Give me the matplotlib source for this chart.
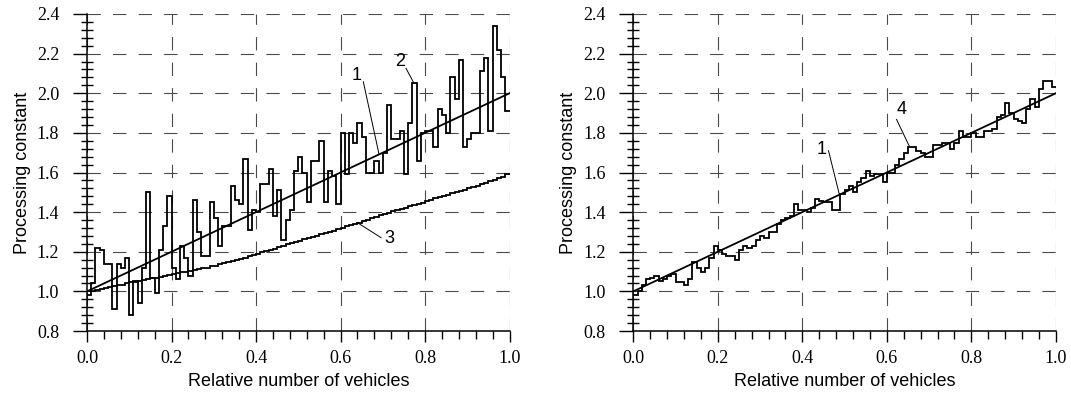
import numpy as np
import matplotlib
matplotlib.use("Agg")
import matplotlib.pyplot as plt
from matplotlib.ticker import MultipleLocator, FormatStrFormatter

# ---------------- data ----------------
n_steps = 100
line1_x = [0.0, 1.0]
line1_y = [1.0, 2.0]

series2 = [0.98, 1.04, 1.22, 1.21, 1.14, 1.14, 0.91, 1.14, 1.12, 1.17,
           0.88, 1.05, 0.94, 1.12, 1.50, 1.07, 0.99, 1.21, 1.33, 1.48,
           1.12, 1.06, 1.23, 1.17, 1.08, 1.46, 1.30, 1.18, 1.18, 1.45,
           1.37, 1.23, 1.33, 1.33, 1.53, 1.46, 1.44, 1.67, 1.31, 1.41,
           1.40, 1.54, 1.54, 1.62, 1.38, 1.51, 1.26, 1.36, 1.41, 1.61,
           1.68, 1.60, 1.45, 1.66, 1.66, 1.76, 1.45, 1.61, 1.58, 1.44,
           1.80, 1.59, 1.80, 1.75, 1.85, 1.78, 1.60, 1.60, 1.66, 1.60,
           1.70, 1.94, 1.77, 1.77, 1.81, 1.59, 1.85, 2.05, 1.66, 1.80,
           1.81, 1.81, 1.73, 1.92, 1.89, 1.80, 2.08, 1.97, 2.17, 1.73,
           1.77, 1.80, 1.80, 2.11, 2.18, 1.81, 2.34, 2.22, 2.08, 1.91]

series3 = [1.000, 1.004, 1.009, 1.012, 1.017, 1.020, 1.026, 1.030, 1.034, 1.041,
           1.045, 1.047, 1.053, 1.056, 1.061, 1.066, 1.069, 1.075, 1.079, 1.085,
           1.090, 1.092, 1.097, 1.100, 1.105, 1.108, 1.111, 1.117, 1.120, 1.126,
           1.130, 1.137, 1.141, 1.148, 1.152, 1.159, 1.165, 1.170, 1.178, 1.184,
           1.190, 1.198, 1.203, 1.211, 1.215, 1.223, 1.229, 1.237, 1.242, 1.250,
           1.255, 1.263, 1.268, 1.276, 1.281, 1.289, 1.294, 1.302, 1.307, 1.315,
           1.320, 1.328, 1.334, 1.342, 1.347, 1.356, 1.362, 1.370, 1.375, 1.384,
           1.390, 1.395, 1.404, 1.409, 1.417, 1.421, 1.430, 1.435, 1.443, 1.448,
           1.455, 1.460, 1.469, 1.474, 1.482, 1.486, 1.495, 1.500, 1.508, 1.512,
           1.520, 1.528, 1.533, 1.542, 1.547, 1.556, 1.561, 1.570, 1.576, 1.590]

series4 = [0.98, 1.00, 1.03, 1.06, 1.07, 1.08, 1.05, 1.06, 1.08, 1.09,
           1.045, 1.045, 1.03, 1.06, 1.15, 1.12, 1.10, 1.12, 1.17, 1.23,
           1.21, 1.19, 1.18, 1.18, 1.16, 1.21, 1.23, 1.22, 1.23, 1.26,
           1.28, 1.27, 1.30, 1.30, 1.34, 1.36, 1.37, 1.38, 1.44, 1.41,
           1.41, 1.40, 1.42, 1.465, 1.455, 1.45, 1.45, 1.41, 1.41, 1.49,
           1.51, 1.53, 1.50, 1.55, 1.57, 1.61, 1.58, 1.59, 1.59, 1.55,
           1.60, 1.60, 1.64, 1.67, 1.70, 1.73, 1.73, 1.71, 1.70, 1.68,
           1.68, 1.74, 1.74, 1.75, 1.75, 1.72, 1.75, 1.81, 1.78, 1.78,
           1.80, 1.78, 1.78, 1.81, 1.81, 1.82, 1.88, 1.89, 1.95, 1.90,
           1.87, 1.86, 1.85, 1.92, 1.97, 1.93, 2.02, 2.06, 2.06, 2.03]

x_label = "Relative number of vehicles"
y_label = "Processing constant"

# annotations: (text, text_xy, leader_start, leader_end)
left_notes = [("1", (0.638, 2.09), (0.654, 2.058), (0.691, 1.694)),
              ("2", (0.741, 2.16), (0.755, 2.126), (0.774, 2.05)),
              ("3", (0.716, 1.268), (0.696, 1.271), (0.640, 1.347))]
right_notes = [("1", (0.446, 1.714), (0.462, 1.710), (0.487, 1.495)),
               ("4", (0.634, 1.916), (0.623, 1.868), (0.653, 1.734))]

# ---------------- figure ----------------
W, H = 1071, 403
fig = plt.figure(figsize=(W / 100, H / 100), dpi=100)
ax_l = fig.add_axes([87 / W, (H - 331) / H, 422.5 / W, 317 / H])
ax_r = fig.add_axes([633.3 / W, (H - 331) / H, 422.5 / W, 317 / H])

edges = np.arange(n_steps + 1) / n_steps
serif = "Liberation Serif"
sans = "Liberation Sans"
grid_color = "#4a4a4a"


def style(ax):
    ax.set_xlim(0, 1.0)
    ax.set_ylim(0.8, 2.4)
    ax.xaxis.set_major_locator(MultipleLocator(0.2))
    ax.xaxis.set_minor_locator(MultipleLocator(0.04))
    ax.yaxis.set_major_locator(MultipleLocator(0.2))
    ax.yaxis.set_minor_locator(MultipleLocator(0.04))
    ax.xaxis.set_major_formatter(FormatStrFormatter("%.1f"))
    ax.yaxis.set_major_formatter(FormatStrFormatter("%.1f"))
    for s in ("top", "right"):
        ax.spines[s].set_visible(False)
    for s in ("left", "bottom"):
        ax.spines[s].set_linewidth(1.1)
    ax.grid(True, which="major", color=grid_color, linewidth=0.8,
            linestyle=(0, (12.0, 11.0)))
    ax.set_axisbelow(True)
    ax.tick_params(axis="x", which="major", direction="out", length=8,
                   width=1.0, pad=6, labelsize=13)
    ax.tick_params(axis="x", which="minor", direction="out", length=6, width=1.0)
    ax.tick_params(axis="y", which="major", direction="out", length=10,
                   width=1.0, pad=10, labelsize=13)
    ax.tick_params(axis="y", which="minor", direction="inout", length=8, width=1.0)
    for lab in ax.get_xticklabels() + ax.get_yticklabels():
        lab.set_fontfamily(serif)
    ax.set_xlabel(x_label, fontsize=13, family=sans, labelpad=4)
    ax.set_ylabel(y_label, fontsize=13, family=sans, labelpad=4)


def notes(ax, items):
    for txt, pos, p0, p1 in items:
        ax.text(pos[0], pos[1], txt, fontsize=13, family=sans,
                ha="center", va="center")
        ax.plot([p0[0], p1[0]], [p0[1], p1[1]], color="black", lw=0.7)


# left panel
ax_l.plot(line1_x, line1_y, color="black", lw=1.3, zorder=3)
ax_l.stairs(series2, edges, baseline=None, color="black", lw=1.3, zorder=3)
ax_l.stairs(series3, edges, baseline=None, color="black", lw=1.3, zorder=3)
style(ax_l)
notes(ax_l, left_notes)

# right panel
ax_r.plot(line1_x, line1_y, color="black", lw=1.3, zorder=3)
ax_r.stairs(series4, edges, baseline=None, color="black", lw=1.3, zorder=3)
style(ax_r)
notes(ax_r, right_notes)

fig.savefig("out.png", dpi=100)
